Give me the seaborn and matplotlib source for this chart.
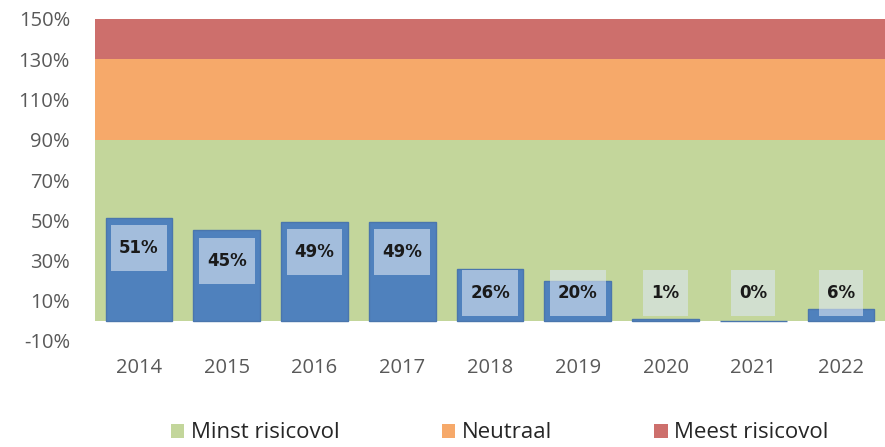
import matplotlib
matplotlib.use("Agg")
import matplotlib.pyplot as plt
import seaborn as sns
import pandas as pd
import numpy as np
from matplotlib.patches import Rectangle, Patch

years = ["2014", "2015", "2016", "2017", "2018", "2019", "2020", "2021", "2022"]
values = [51, 45, 49, 49, 26, 20, 1, 0, 6]
band_names = ["Minst risicovol", "Neutraal", "Meest risicovol"]
band_heights = [90, 40, 20]
band_colors = ["#c3d69b", "#f6a96a", "#cd6f6c"]
yticks = [-10, 10, 30, 50, 70, 90, 110, 130, 150]

sns.set_theme(style="white")
plt.rcParams['font.family'] = ['Open Sans', 'DejaVu Sans']

fig = plt.figure(figsize=(8.85, 4.47), dpi=100)
ax = fig.add_axes([95/885, 1-341/447, 790/885, (341-19)/447])

x = np.arange(len(years))
bottom = 0
for name, h, c in zip(band_names, band_heights, band_colors):
    ax.bar(x, [h]*len(x), bottom=bottom, width=1.0, color=c, linewidth=0, zorder=1)
    bottom += h

df = pd.DataFrame({"year": years, "value": values})
sns.barplot(data=df, x="year", y="value", color="#4f81bd", saturation=1,
            width=0.76, edgecolor="#4a76ad", linewidth=1.0, ax=ax, zorder=2)

ax.set_xlim(-0.5, len(years) - 0.5)
ax.set_ylim(-10, 150)
ax.set_yticks(yticks)
ax.set_yticklabels([f"{t}%" for t in yticks])
ax.set_xlabel("")
ax.set_ylabel("")
for s in ax.spines.values():
    s.set_visible(False)
ax.tick_params(axis='y', length=0, pad=18, labelsize=14.5, labelcolor="#595959")
ax.tick_params(axis='x', length=0, pad=12, labelsize=14.5, labelcolor="#595959")

texts = []
for i, v in enumerate(values):
    ly = max(v - 15, 14)
    t = ax.text(i, ly, f"{v}%", ha="center", va="center", fontsize=12,
                fontweight="bold", color="#1a1a1a", zorder=4,
                family=['DejaVu Sans'])
    texts.append(t)

fig.canvas.draw()
r = fig.canvas.get_renderer()
inv = ax.transData.inverted()
for t in texts:
    bb = t.get_window_extent(renderer=r)
    x0, y0 = inv.transform((bb.x0 - 8, bb.y0 - 14))
    x1, y1 = inv.transform((bb.x1 + 8, bb.y1 + 14))
    ax.add_patch(Rectangle((x0, y0), x1 - x0, y1 - y0, facecolor="#dce6f2",
                           alpha=0.6, linewidth=0, zorder=3))

handles = [Patch(facecolor=c, edgecolor='none') for c in band_colors]
fig.legend(handles, band_names, loc="center", bbox_to_anchor=(500/885, 1-433/447),
           ncol=3, frameon=False, fontsize=16, handlelength=0.6, handleheight=0.6,
           handletextpad=0.3, columnspacing=4.6, labelcolor="#262626")

fig.savefig("out.png", dpi=100)
